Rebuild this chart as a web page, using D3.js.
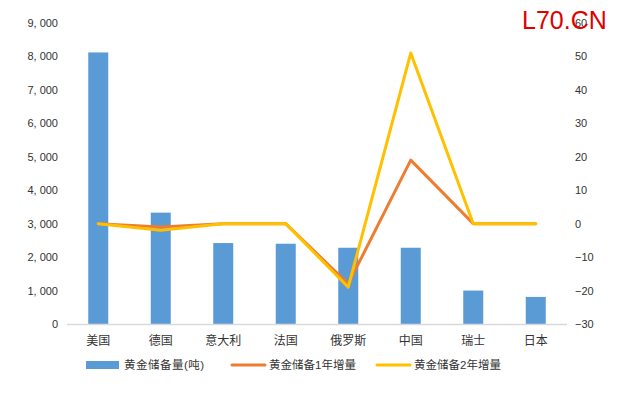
<!DOCTYPE html>
<html><head><meta charset="utf-8">
<script src="https://cdn.jsdelivr.net/npm/d3@7"></script>
<style>body{margin:0;background:#fff;}svg{display:block;font-family:"Liberation Sans","Noto Sans CJK SC",sans-serif;}</style>
</head><body>
<script>
const categories = ["美国","德国","意大利","法国","俄罗斯","中国","瑞士","日本"];
const reserves = [8120, 3330, 2420, 2400, 2280, 2280, 1000, 810];
const change1y = [0, -1, 0, 0, -18, 19, 0, 0];
const change2y = [0, -2, 0, 0, -19, 51, 0, 0];
const leftTicks = [0,1000,2000,3000,4000,5000,6000,7000,8000,9000];
const rightTicks = [-30,-20,-10,0,10,20,30,40,50,60];
const seriesNames = ["黄金储备量(吨)","黄金储备1年增量","黄金储备2年增量"];
const colors = {bar:"#5b9bd5", y1:"#ed7d31", y2:"#ffc000"};

const W=619,H=393;
const svg=d3.select("body").append("svg").attr("width",W).attr("height",H);
const x=d3.scaleBand().domain(categories).range([67,567]).paddingInner(0.68).paddingOuter(0.34);
const yL=d3.scaleLinear().domain([0,9000]).range([324,23]);
const yR=d3.scaleLinear().domain([-30,60]).range([324,23]);

svg.append("g").selectAll("rect").data(reserves).join("rect")
 .attr("x",(d,i)=>x(categories[i])).attr("width",x.bandwidth())
 .attr("y",d=>yL(d)).attr("height",d=>yL(0)-yL(d)).attr("fill",colors.bar);

svg.append("line").attr("x1",67).attr("x2",567).attr("y1",324.5).attr("y2",324.5)
 .attr("stroke","#d9d9d9").attr("stroke-width",1.5);

const lg=svg.append("g").attr("font-size",11);
lg.selectAll("text").data(leftTicks).join("text").attr("x",58).attr("y",d=>yL(d)+4)
 .attr("text-anchor","end").attr("fill","#333").text(d=>d3.format(",")(d).replace(",",", "));
const rg=svg.append("g").attr("font-size",11);
rg.selectAll("text").data(rightTicks).join("text").attr("x",575).attr("y",d=>yR(d)+4)
 .attr("fill","#333").text(d=>d<0?"\u2212"+(-d):d);

svg.append("g").attr("font-size",12).selectAll("text").data(categories).join("text")
 .attr("x",d=>x(d)+x.bandwidth()/2).attr("y",345).attr("text-anchor","middle").attr("fill","#333").text(d=>d);

const line=d3.line().x((d,i)=>x(categories[i])+x.bandwidth()/2).y(d=>yR(d));
svg.append("path").datum(change1y).attr("d",line).attr("fill","none").attr("stroke",colors.y1)
 .attr("stroke-width",3).attr("stroke-linejoin","round").attr("stroke-linecap","round");
svg.append("path").datum(change2y).attr("d",line).attr("fill","none").attr("stroke",colors.y2)
 .attr("stroke-width",3).attr("stroke-linejoin","round").attr("stroke-linecap","round");

const leg=svg.append("g").attr("font-size",11.5);
leg.append("rect").attr("x",86).attr("y",361).attr("width",33).attr("height",8).attr("fill",colors.bar);
leg.append("text").attr("x",124).attr("y",369).attr("fill","#333").attr("letter-spacing",0.5).text(seriesNames[0]);
leg.append("line").attr("x1",232).attr("x2",265).attr("y1",365).attr("y2",365).attr("stroke",colors.y1).attr("stroke-width",3).attr("stroke-linecap","round");
leg.append("text").attr("x",269).attr("y",369).attr("fill","#333").text(seriesNames[1]);
leg.append("line").attr("x1",377).attr("x2",410).attr("y1",365).attr("y2",365).attr("stroke",colors.y2).attr("stroke-width",3).attr("stroke-linecap","round");
leg.append("text").attr("x",414).attr("y",369).attr("fill","#333").text(seriesNames[2]);

svg.append("text").attr("x",522).attr("y",29).attr("font-size",25).attr("fill","#e00000").text("L70.CN");
</script>
</body></html>
